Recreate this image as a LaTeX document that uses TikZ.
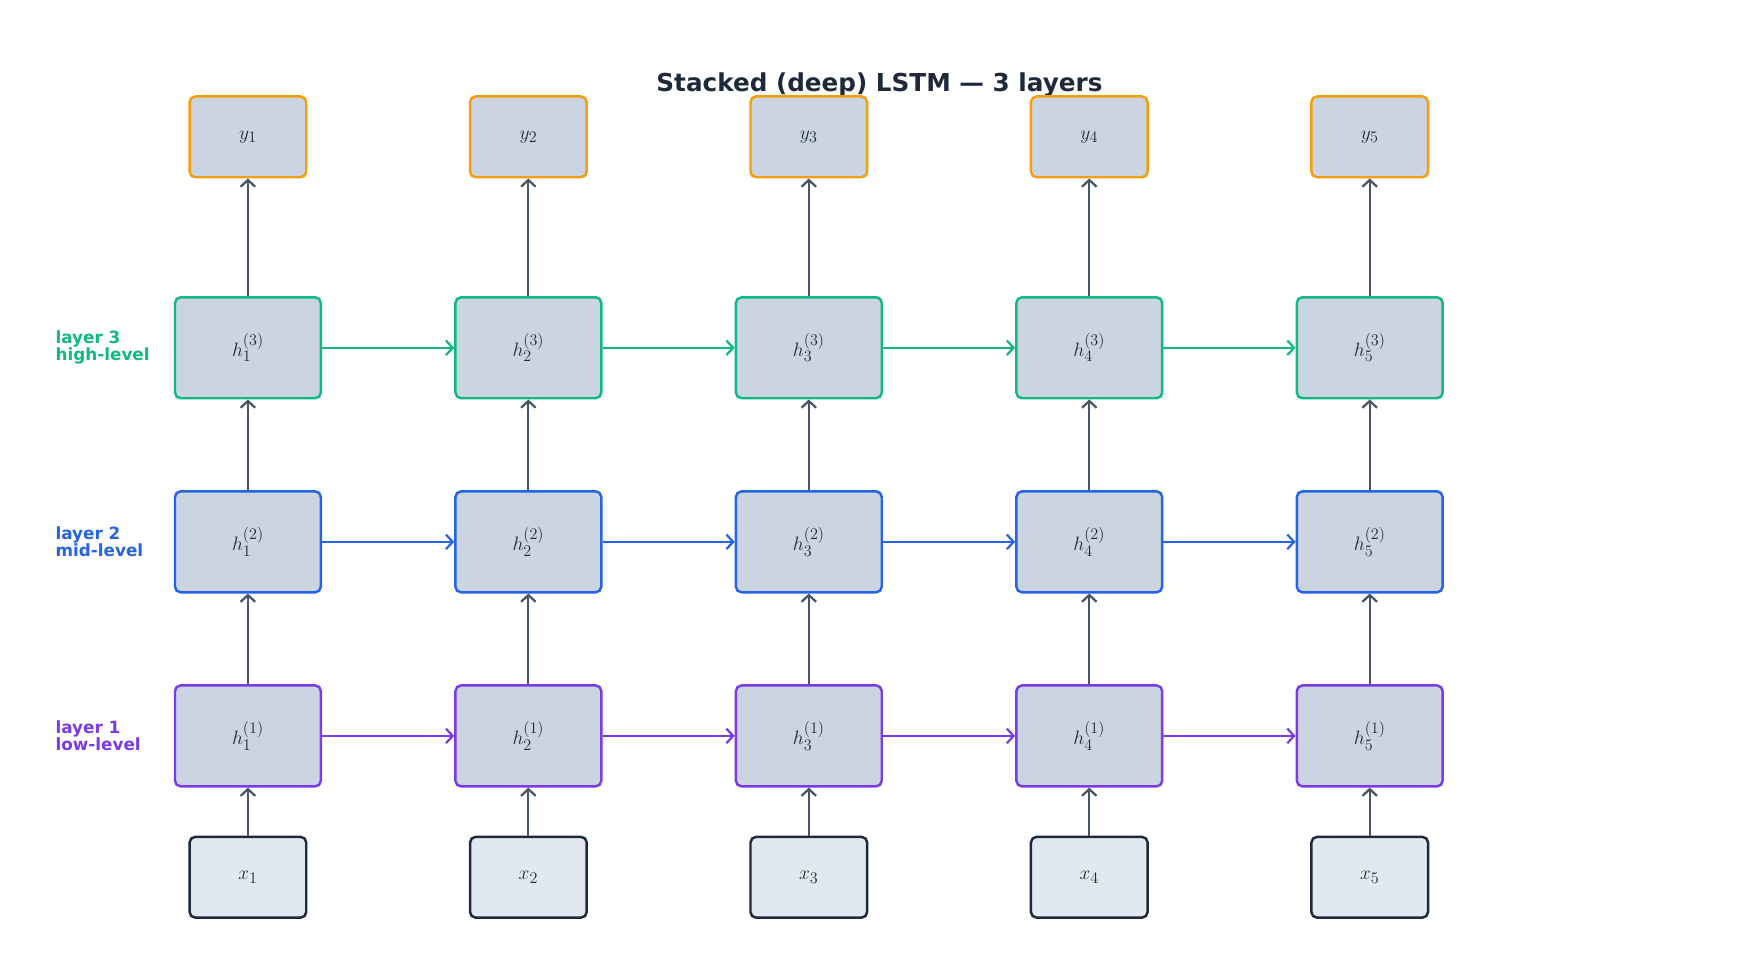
\documentclass[tikz,border=0pt]{standalone}
\usepackage{fontspec}
\setmainfont{DejaVu Sans}
\usetikzlibrary{arrows.meta}
\definecolor{cg}{HTML}{10B981}
\definecolor{cb}{HTML}{2563EB}
\definecolor{cp}{HTML}{7C3AED}
\definecolor{co}{HTML}{F59E0B}
\definecolor{cf}{HTML}{CBD5E1}
\definecolor{cx}{HTML}{E2E8F0}
\definecolor{cd}{HTML}{1E293B}
\definecolor{ca}{HTML}{475569}
\begin{document}
\begin{tikzpicture}[x=1pt,y=-1pt,
 box/.style={draw,rounded corners=5pt,line width=2.2pt,fill=cf,text=cd,font=\fontsize{19}{22}\selectfont},
 hb/.style={box,minimum width=130pt,minimum height=90pt},
 sb/.style={box,minimum width=104pt,minimum height=72pt},
 arr/.style={-{Straight Barb[length=6pt,width=13pt]},line width=2pt},
 lab/.style={anchor=west,align=left,font=\fontsize{15}{18}\selectfont\bfseries}]
\useasboundingbox (0,0) rectangle (1560,851);
\node[font=\fontsize{22}{26}\selectfont\bfseries,text=cd] (title) at (784,76) {Stacked (deep) LSTM — 3 layers};
\foreach \i/\x in {1/221,2/471,3/721,4/971,5/1221}{
  \node[sb,draw=co] (y\i) at (\x,122) {$y_{\i}$};
  \node[hb,draw=cg] (a\i) at (\x,310) {$h_{\i}^{(3)}$};
  \node[hb,draw=cb] (b\i) at (\x,483) {$h_{\i}^{(2)}$};
  \node[hb,draw=cp] (c\i) at (\x,656) {$h_{\i}^{(1)}$};
  \node[sb,draw=cd,fill=cx] (x\i) at (\x,782) {$x_{\i}$};
  \draw[arr,ca] (x\i) -- (c\i);
  \draw[arr,ca] (c\i) -- (b\i);
  \draw[arr,ca] (b\i) -- (a\i);
  \draw[arr,ca] (a\i) -- (y\i);
}
\foreach \i/\j in {1/2,2/3,3/4,4/5}{
  \draw[arr,cg] (a\i) -- (a\j);
  \draw[arr,cb] (b\i) -- (b\j);
  \draw[arr,cp] (c\i) -- (c\j);
}
\node[lab,text=cg] (l3) at (46,310) {layer 3\\[-3pt]high-level};
\node[lab,text=cb] (l2) at (46,483) {layer 2\\[-3pt]mid-level};
\node[lab,text=cp] (l1) at (46,656) {layer 1\\[-3pt]low-level};
\end{tikzpicture}
\end{document}
